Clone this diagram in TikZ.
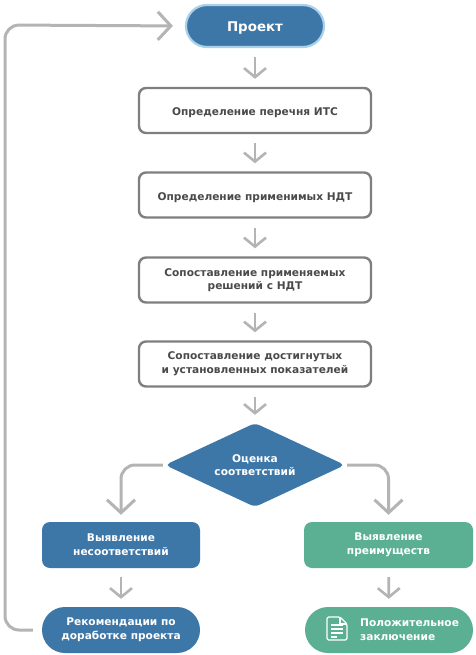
\documentclass[tikz,border=0pt]{standalone}
\usepackage{fontspec}
\setmainfont{DejaVu Sans}
\usetikzlibrary{arrows.meta,shapes.geometric}
\definecolor{cblue}{HTML}{3D77A8}
\definecolor{cgreen}{HTML}{5BB094}
\definecolor{cedge}{HTML}{B4B4B6}
\definecolor{cbord}{HTML}{7F7F7F}
\definecolor{ctext}{HTML}{4A4A4C}
\definecolor{chalo}{HTML}{A9D2EA}
\tikzset{
  x=1pt,y=-1pt,
  base/.style={align=center,inner sep=0pt,font=\fontsize{10.6}{13.6}\selectfont\bfseries},
  whitebox/.style={base,draw=cbord,line width=2.4pt,fill=white,text=ctext,rounded corners=7pt,minimum width=232pt,minimum height=45pt},
  fillbox/.style={base,text=white,rounded corners=8pt,minimum width=158pt,minimum height=46pt},
  pill/.style={base,text=white,rounded corners=23pt,minimum width=158pt,minimum height=46pt},
  conn/.style={draw=cedge,line width=2.6pt,-{Straight Barb[length=9pt,width=22pt,line width=2.6pt]}},
  shortconn/.style={conn,shorten <=9pt,shorten >=8pt},
  bigconn/.style={draw=cedge,line width=3pt,rounded corners=14pt,-{Straight Barb[length=13pt,width=28pt,line width=3pt]}},
  lowered/.style={text height=11pt,text depth=1pt},
}
\begin{document}
\begin{tikzpicture}
\useasboundingbox (0,0) rectangle (475,655);
\fill[white] (0,0) rectangle (475,655);
\node[pill,fill=cblue,draw=chalo,line width=2.2pt,minimum width=138pt,minimum height=42pt,rounded corners=21pt,font=\fontsize{13.4}{15}\selectfont\bfseries,text height=13pt,text depth=1pt] (p) at (255,26) {Проект};
\node[whitebox,lowered] (a) at (255,110.5) {Определение перечня ИТС};
\node[whitebox,lowered] (b) at (255,195) {Определение применимых НДТ};
\node[whitebox] (c) at (255,280) {Сопоставление применяемых\\решений с НДТ};
\node[whitebox] (d) at (255,364) {Сопоставление достигнутых\\и установленных показателей};
\node[base,diamond,aspect=2.18,fill=cblue,text=white,minimum width=180pt,minimum height=84pt,rounded corners=5pt] (e) at (255,465) {Оценка\\соответствий};
\node[fillbox,fill=cblue] (f) at (121,545) {Выявление\\несоответствий};
\node[fillbox,fill=cgreen,minimum width=169pt] (g) at (388.5,545) {Выявление\\преимуществ};
\node[pill,fill=cblue] (h) at (121,630) {Рекомендации по\\доработке проекта};
\node[pill,fill=cgreen,minimum width=168pt] (i) at (389,630) {};
\node[base,text=white,align=left,anchor=west] (it) at (360,630) {Положительное\\заключение};
% document icon
\draw[white,line width=1.2pt,rounded corners=1.5pt,line join=round] (336,617)--(340,617)--(347,624)--(347,640)--(327,640)--(327,617)--cycle;
\draw[white,line width=1.2pt] (340,617)--(340,624)--(347,624);
\draw[white,line width=1.1pt] (331,625)--(343,625) (331,629)--(343,629) (331,633)--(343,633) (331,637)--(337,637);
\coordinate (turn) at (5,630);
\coordinate (top) at (5,25);
\draw[shortconn] (p) -- (a);
\draw[shortconn] (a) -- (b);
\draw[shortconn] (b) -- (c);
\draw[shortconn] (c) -- (d);
\draw[shortconn] (d) -- (e);
\draw[shortconn] (f) -- (h);
\draw[shortconn] (g) -- (i);
\draw[bigconn,shorten <=2pt,shorten >=7pt] (e.west) -| (f.north);
\draw[bigconn,shorten <=2pt,shorten >=7pt] (e.east) -| (g.north);
\draw[bigconn,shorten <=9pt,shorten >=12pt] (h.west) -- (turn) -- (top) -- (p.west);
\end{tikzpicture}
\end{document}
